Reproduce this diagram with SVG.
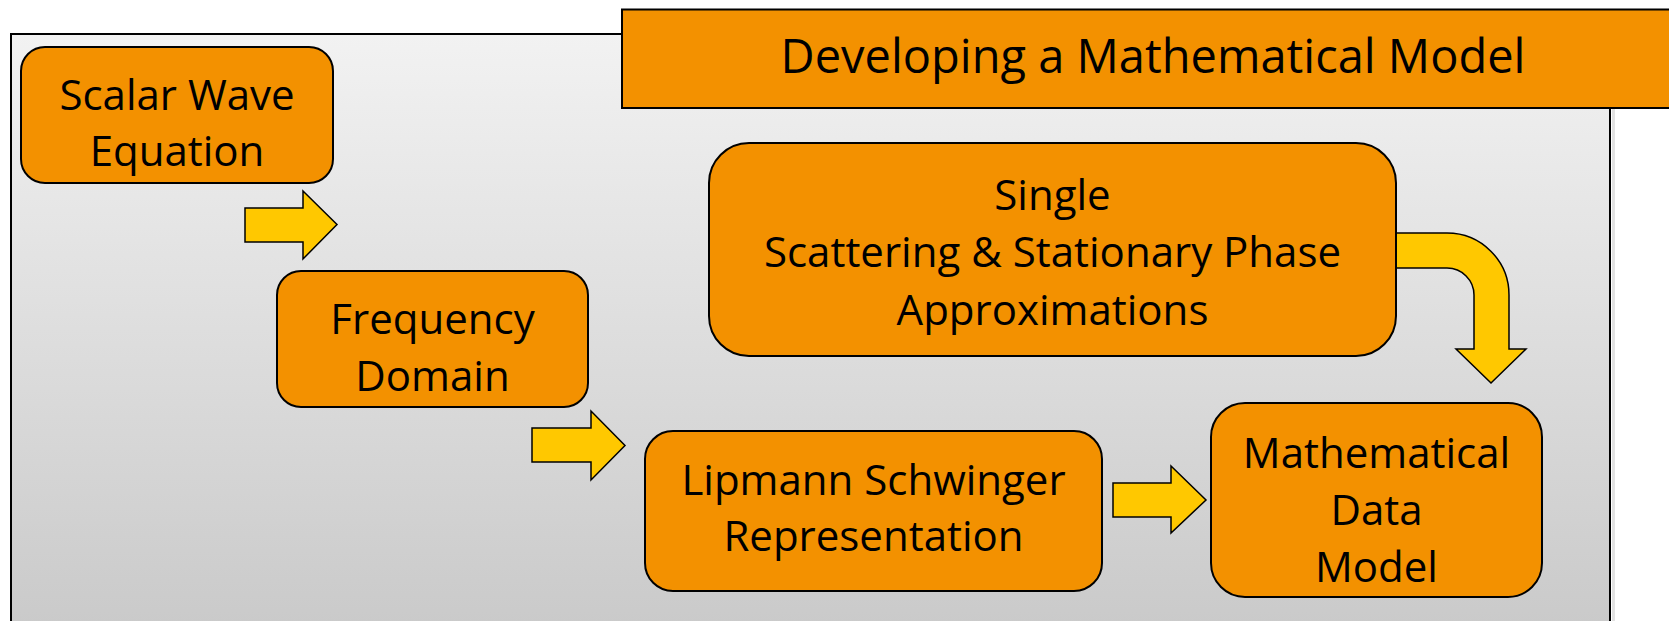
<svg xmlns="http://www.w3.org/2000/svg" width="1669" height="621" viewBox="0 0 1669 621">
  <defs>
    <linearGradient id="bg" x1="0" y1="0" x2="0" y2="1">
      <stop offset="0" stop-color="#f2f2f2"/>
      <stop offset="1" stop-color="#c8c8c8"/>
    </linearGradient>
    <style>
      .box { fill: #f39100; stroke: #000; stroke-width: 2; }
      .arrow { fill: #ffc800; stroke: #000; stroke-width: 1.5; stroke-linejoin: miter; }
      .t { font-family: "Open Sans", "Liberation Sans", sans-serif; font-size: 42px; fill: #000; text-anchor: middle; }
      .title { font-size: 47px; }
    </style>
  </defs>
  <rect x="0" y="0" width="1669" height="621" fill="#ffffff"/>
  <g id="panel">
    <rect x="1612" y="36" width="3" height="600" fill="#e2e2e2"/>
    <rect x="11" y="34" width="1599" height="620" fill="url(#bg)" stroke="#000" stroke-width="2"/>
  </g>
  <g id="title">
    <rect x="622" y="9.5" width="1060" height="98.5" class="box"/>
    <text class="t title" x="1153" y="73">Developing a Mathematical Model</text>
  </g>
  <g id="connectors">
    <path class="arrow" d="M245,208 L303,208 L303,191 L337,224.5 L303,259 L303,242 L245,242 Z"/>
    <path class="arrow" d="M532,428 L591,428 L591,411 L625,445.5 L591,480 L591,462 L532,462 Z"/>
    <path class="arrow" d="M1113,483 L1171,483 L1171,466 L1206,500 L1171,533 L1171,517 L1113,517 Z"/>
    <path class="arrow" d="M1386,233 L1447,233 A62,62 0 0 1 1509,295 L1509,349 L1526,349 L1491,383 L1456,349 L1474,349 L1474,295 A27,27 0 0 0 1447,268 L1386,268 Z"/>
  </g>
  <g id="node-scalar">
    <rect x="21" y="47" width="312" height="136" rx="24" ry="24" class="box"/>
    <text class="t" x="177" y="110">Scalar Wave</text>
    <text class="t" x="177" y="166">Equation</text>
  </g>
  <g id="node-frequency">
    <rect x="277" y="271" width="311" height="136" rx="24" ry="24" class="box"/>
    <text class="t" x="432.5" y="334">Frequency</text>
    <text class="t" x="432.5" y="391">Domain</text>
  </g>
  <g id="node-lipmann">
    <rect x="645" y="431" width="457" height="160" rx="28" ry="28" class="box"/>
    <text class="t" x="873.5" y="495">Lipmann Schwinger</text>
    <text class="t" x="873.5" y="551">Representation</text>
  </g>
  <g id="node-math">
    <rect x="1211" y="403" width="331" height="194" rx="34" ry="34" class="box"/>
    <text class="t" x="1376.5" y="468">Mathematical</text>
    <text class="t" x="1376.5" y="525">Data</text>
    <text class="t" x="1376.5" y="582">Model</text>
  </g>
  <g id="node-single">
    <rect x="709" y="143" width="687" height="213" rx="40" ry="40" class="box"/>
    <text class="t" x="1052.5" y="210">Single</text>
    <text class="t" x="1052.5" y="267">Scattering &amp; Stationary Phase</text>
    <text class="t" x="1052.5" y="325">Approximations</text>
  </g>
</svg>
